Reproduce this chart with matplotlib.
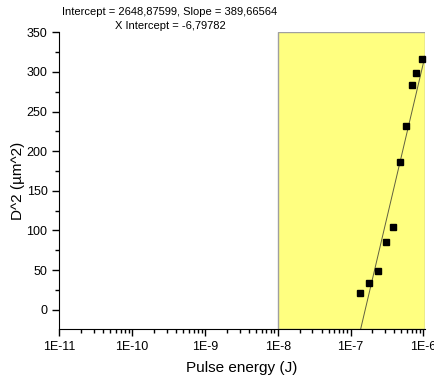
import numpy as np
import matplotlib
matplotlib.use("Agg")
import matplotlib.pyplot as plt
from matplotlib.ticker import FixedLocator, LogLocator, NullFormatter, MultipleLocator

plt.rcParams['font.family'] = ['Liberation Sans', 'DejaVu Sans']

# measured points
energy = [1.34e-7, 1.81e-7, 2.36e-7, 3.08e-7, 3.87e-7, 4.83e-7, 5.84e-7, 7.07e-7, 7.87e-7, 9.68e-7]
d2 = [21.1, 34.2, 48.6, 85.3, 104.0, 186.8, 231.5, 283.5, 298.8, 316.5]

# linear fit of D^2 vs log10(E)
intercept = 2648.87599
slope = 389.66564
x_intercept = -6.79782

xticks = [1e-11, 1e-10, 1e-9, 1e-8, 1e-7, 1e-6]
xticklabels = ['1E-11', '1E-10', '1E-9', '1E-8', '1E-7', '1E-6']

fig = plt.figure(figsize=(4.34, 3.78), dpi=100)
ax = fig.add_axes([59.3 / 434, 1 - 328.7 / 378, (425 - 59.3) / 434, (328.7 - 32.3) / 378])

ax.set_xscale('log')
ax.set_xlim(1e-11, 1.055e-6)
ax.set_ylim(-24, 350)

# highlighted fit region
ax.axvspan(1e-8, 1.055e-6, facecolor='#ffff80', edgecolor='#a0a0a0', lw=1, zorder=0)

# fit line
xf = np.logspace(-7, np.log10(1.055e-6), 200)
ax.plot(xf, intercept + slope * np.log10(xf), color='#606040', lw=0.7, zorder=2)

ax.plot(energy, d2, 's', color='black', ms=4.6, zorder=3, clip_on=False)

ax.spines['top'].set_visible(False)
ax.spines['right'].set_visible(False)

ax.xaxis.set_major_locator(FixedLocator(xticks))
ax.set_xticklabels(xticklabels)
ax.xaxis.set_minor_locator(LogLocator(base=10, subs=np.arange(2, 10)))
ax.xaxis.set_minor_formatter(NullFormatter())
ax.yaxis.set_major_locator(FixedLocator([0, 50, 100, 150, 200, 250, 300, 350]))
ax.yaxis.set_minor_locator(MultipleLocator(25))

ax.tick_params(which='major', direction='out', length=5, width=1, labelsize=9)
ax.tick_params(which='minor', direction='out', length=3, width=1)

ax.set_xlabel('Pulse energy (J)', fontsize=11, labelpad=6)
ax.set_ylabel('D^2 (µm^2)', fontsize=11, labelpad=1)

fig.text(170 / 434, 1 - 12 / 378, 'Intercept = 2648,87599, Slope = 389,66564',
         ha='center', va='center', fontsize=8)
fig.text(170 / 434, 1 - 26 / 378, 'X Intercept = -6,79782',
         ha='center', va='center', fontsize=8)

fig.savefig('out.png', dpi=100)
